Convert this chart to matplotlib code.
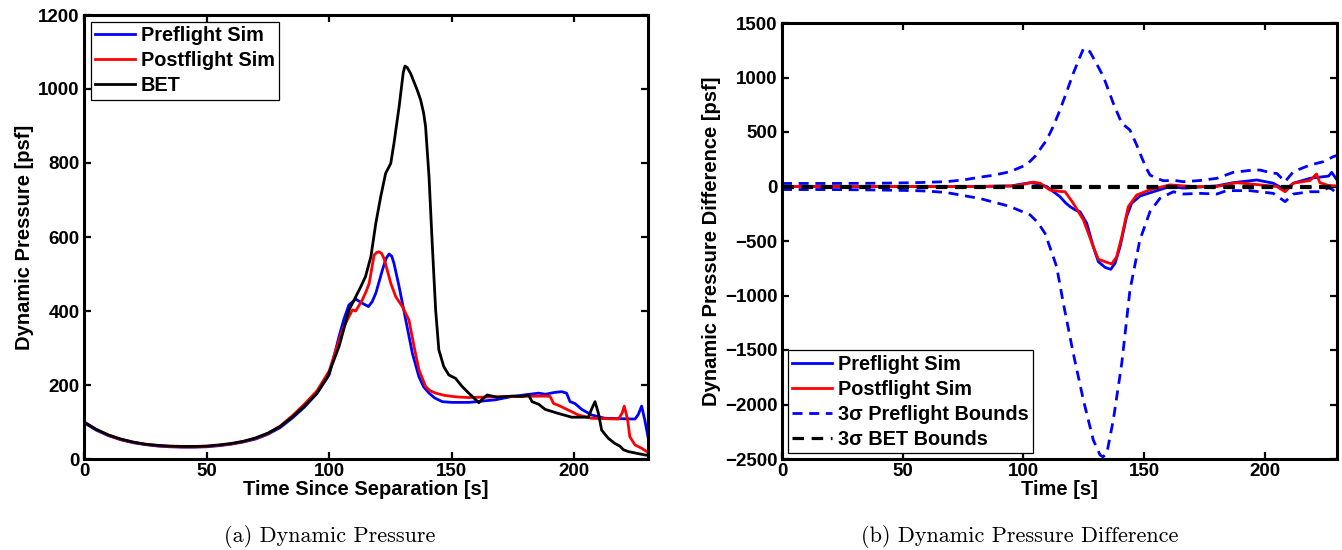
import matplotlib
matplotlib.use("Agg")
import matplotlib.pyplot as plt
import numpy as np

# ---------------- data: left panel (Dynamic Pressure) ----------------
t_pre = [0, 5, 10, 15, 20, 25, 30, 35, 40, 45, 50, 55, 60, 65, 70, 75, 80, 85, 90, 95,
         100, 102, 104, 106, 108, 110.8, 113.5, 116, 117.5, 119, 121.7, 123.2, 124.4, 125.5,
         126.4, 128.5, 131.2, 133.9, 136.6, 138.5, 140.7, 143, 146.1, 150, 157, 167.8, 174.5,
         185.4, 188.1, 192, 194.8, 196.8, 198.2, 200.2, 203, 207, 212.5, 224.7, 226, 227.4,
         228.7, 230]
q_pre = [98, 78, 63, 52, 44, 39, 35, 33, 32, 32, 33, 36, 40, 46, 54, 67, 85, 111, 141, 177,
         228, 278, 331, 378, 416, 432, 421, 412, 425, 448, 511, 542, 554, 548,
         529, 466, 376, 286, 222, 195, 178, 165, 155, 153, 153, 160, 169,
         178, 175, 180, 182, 178, 155, 150, 134, 119, 110, 108, 120, 143,
         105, 60]

t_post = [0, 5, 10, 15, 20, 25, 30, 35, 40, 45, 50, 55, 60, 65, 70, 75, 80, 85, 90, 95,
          100, 102.5, 105.4, 107.5, 109.5, 110.8, 113.5, 115, 116.3, 118.3, 119.3, 120.3,
          121.3, 122.4, 125.1, 127.1, 129.8, 132.5, 134.6, 136.6, 139.3, 141, 143.4, 147,
          151.5, 157, 161, 174.5, 188.1, 190.1, 191.5, 193.5, 197.6, 201.6, 207, 218, 219.5,
          220.3, 221.2, 221.7, 222.6, 224.7, 227.4, 230]
q_post = [100, 80, 64, 53, 45, 40, 36, 34, 33, 33, 34, 37, 41, 47, 56, 69, 89, 117, 149, 184,
          238, 290, 349, 378, 403, 400, 430, 452, 475, 551, 558, 560,
          556, 541, 475, 439, 412, 376, 304, 241, 196, 185, 178, 172,
          168, 166, 167, 169, 170, 169, 150, 145, 132, 119, 110, 108, 125,
          143, 120, 105, 60, 38, 29, 18]

t_bet = [0, 5, 10, 15, 20, 25, 30, 35, 40, 45, 50, 55, 60, 65, 70, 75, 80, 85, 90, 95,
         99.3, 104, 108.1, 112.9, 114.8, 117, 119, 121, 123, 125.1, 126.4, 128.5, 130.2,
         130.9, 131.8, 133.2, 135.9, 137.3, 138.5, 139.3, 140.7, 142, 143.4, 144.7, 146.7,
         148.8, 151.5, 154.2, 156.9, 159, 161, 162.5, 164.4, 168.5, 174.5, 178.6, 181.3,
         182.7, 185.4, 188.1, 193.5, 198.9, 205.7, 207, 208.4, 209.8, 211.1, 213.8, 216.5,
         218.5, 220, 222, 228.7, 230]
q_bet = [100, 80, 65, 54, 46, 40, 37, 35, 34, 34, 35, 38, 42, 48, 57, 70, 88, 114, 144, 178,
         222, 304, 403, 466, 493, 547, 637, 709, 772, 799, 853, 952, 1045,
         1062, 1058, 1042, 997, 970, 935, 898, 763, 583, 403, 295, 250,
         227, 218, 196, 178, 165, 152, 162, 173, 167, 170, 169, 173,
         155, 148, 134, 123, 113, 113, 135, 155, 123, 78, 56, 42,
         35, 25, 20, 11, 10]

# ---------------- data: right panel (Dynamic Pressure Difference) ----------------
t_dpre = [0, 20, 40, 60, 80, 95, 100, 103, 106, 109.7, 112, 115.2, 117.5, 119.4, 121.5,
          123.5, 126.3, 129, 131.1, 133.9, 136.2, 138, 140.1, 142.8, 144.9, 148.4, 153.9,
          160.8, 166.3, 180, 187, 196.8, 203.6, 208.5, 211.9, 218.8, 224.4, 226.5, 227.8, 230]
d_pre = [0, 0, 0, 0, 0, 5, 25, 35, 25, 0, -40, -93, -150, -185, -215,
         -231, -338, -552, -690, -742, -760, -705, -552, -277, -154, -87, -48,
         0, -15, 5, 35, 60, 30, -32, 30, 75, 90, 95, 130, 60]

t_dpost = [0, 20, 40, 60, 80, 95, 100, 104.1, 107, 111, 115, 117.3, 120.7, 124.9, 129,
           131.1, 133.9, 136.6, 138.7, 140.8, 143.5, 147, 152.5, 160.8, 170, 180.2, 188.4,
           198.1, 205, 208.5, 211.9, 218.8, 221.5, 222.9, 226.4, 230]
d_post = [0, 0, 0, 0, 0, 5, 20, 40, 30, -32, -45, -48, -154, -307, -552,
          -668, -690, -711, -644, -460, -185, -78, -30, 15, 0, 0, 35,
          15, 0, -48, 30, 55, 115, 35, 10, 5]

t_ub = [0, 20, 40, 55, 68, 75, 82, 88, 94.5, 101.4, 105, 109.7, 112.5, 115.2, 118, 120.7,
        123.5, 125, 127.6, 130.5, 133.2, 137.3, 140.8, 144.2, 147, 149, 151, 152.5, 155.3,
        158, 162.8, 166.3, 173.2, 180.2, 187, 195.3, 198.1, 203.6, 205, 208.5, 211.9,
        218.8, 224.4, 228.5, 230]
d_ub = [28, 28, 30, 35, 44, 60, 85, 105, 136, 200, 280, 427, 555, 702, 870, 1038,
        1190, 1268, 1237, 1120, 1008, 763, 580, 518, 380, 270, 167, 105, 75,
        53, 55, 44, 55, 75, 130, 151, 151, 121, 121, 45, 136,
        197, 228, 274, 285]

t_lb = [0, 20, 40, 55, 60, 68, 82, 94, 102.8, 106, 109, 112.4, 113.8, 116.6, 120.7, 124.9,
        129, 131.8, 133, 134.6, 137.3, 140.8, 144.2, 148.3, 152.5, 156.6, 162.2, 166.3,
        173.2, 180.2, 184.3, 193.9, 203.6, 208.5, 211.9, 218.8, 222.9, 226.4, 228, 230]
d_lb = [-28, -28, -32, -38, -42, -55, -110, -180, -260, -330, -430, -644, -735, -1072,
        -1530, -1959, -2326, -2463, -2480, -2448, -2142, -1622, -950, -491, -230, -109,
        -48, -69, -63, -69, -38, -38, -63, -139, -69, -48, -48, -12, -25, -70]

t_bet_b = [0, 230]
d_bet_ub = [9, 9]
d_bet_lb = [-9, -9]

# ---------------- labels ----------------
left_ylabel = "Dynamic Pressure [psf]"
left_xlabel = "Time Since Separation [s]"
right_ylabel = "Dynamic Pressure Difference [psf]"
right_xlabel = "Time [s]"
cap_a = "(a) Dynamic Pressure"
cap_b = "(b) Dynamic Pressure Difference"

# ---------------- figure ----------------
plt.rcParams['font.family'] = ['Liberation Sans', 'DejaVu Sans']
plt.rcParams['font.weight'] = 'bold'
FS_TICK = 13.5
FS_LAB = 14.5
FS_LEG = 14.3

W, H = 1342, 550
fig = plt.figure(figsize=(W / 100, H / 100), dpi=100)
ax1 = fig.add_axes([84 / W, 91 / H, 564 / W, 444 / H])
ax2 = fig.add_axes([782 / W, 91 / H, 555 / W, 436 / H])

LW = 2.0
DASH = (0, (3.6, 2.4))
ax1.plot(t_pre, q_pre, color='#0000ff', lw=LW, label='Preflight Sim')
ax1.plot(t_post, q_post, color='#ff0000', lw=LW, label='Postflight Sim')
ax1.plot(t_bet, q_bet, color='black', lw=LW, label='BET')
ax1.set_xlim(0, 230)
ax1.set_ylim(0, 1200)
ax1.set_xticks([0, 50, 100, 150, 200])
ax1.set_yticks([0, 200, 400, 600, 800, 1000, 1200])

ax2.plot(t_dpre, d_pre, color='#0000ff', lw=LW, label='Preflight Sim')
ax2.plot(t_dpost, d_post, color='#ff0000', lw=LW, label='Postflight Sim')
ax2.plot(t_ub, d_ub, color='#0000ff', lw=LW, ls=DASH, label='3σ Preflight Bounds')
ax2.plot(t_lb, d_lb, color='#0000ff', lw=LW, ls=DASH)
ax2.plot(t_bet_b, d_bet_ub, color='black', lw=2.3, ls=DASH, label='3σ BET Bounds')
ax2.plot(t_bet_b, d_bet_lb, color='black', lw=2.3, ls=DASH)
ax2.set_xlim(0, 230)
ax2.set_ylim(-2500, 1500)
ax2.set_xticks([0, 50, 100, 150, 200])
ax2.set_yticks([-2500, -2000, -1500, -1000, -500, 0, 500, 1000, 1500])

for ax in (ax1, ax2):
    for s in ax.spines.values():
        s.set_linewidth(2.2)
    ax.tick_params(direction='in', length=5, width=1.6, top=True, right=True,
                   labelsize=FS_TICK, pad=3)
    for lab in ax.get_xticklabels() + ax.get_yticklabels():
        lab.set_fontweight('bold')

ax1.set_xlabel(left_xlabel, fontsize=FS_LAB, fontweight='bold', labelpad=0)
ax1.set_ylabel(left_ylabel, fontsize=FS_LAB, fontweight='bold', labelpad=3)
ax2.set_xlabel(right_xlabel, fontsize=FS_LAB, fontweight='bold', labelpad=0)
ax2.set_ylabel(right_ylabel, fontsize=FS_LAB, fontweight='bold', labelpad=3)

leg_kw = dict(fancybox=False, edgecolor='black', framealpha=1, handlelength=2.0,
              handletextpad=0.3, borderpad=0.22, labelspacing=0.3,
              prop={'weight': 'bold', 'size': FS_LEG})
l1 = ax1.legend(loc='upper left', borderaxespad=0.35, **leg_kw)
l2 = ax2.legend(loc='lower left', borderaxespad=0.3, **leg_kw)
for lg in (l1, l2):
    lg.get_frame().set_linewidth(0.9)

fig.text(330 / W, 1 - 537 / H, cap_a, ha='center', va='center',
         family='cmr10', fontsize=16, fontweight='normal')
fig.text(1020 / W, 1 - 537 / H, cap_b, ha='center', va='center',
         family='cmr10', fontsize=16, fontweight='normal')

fig.savefig('out.png', dpi=100)
